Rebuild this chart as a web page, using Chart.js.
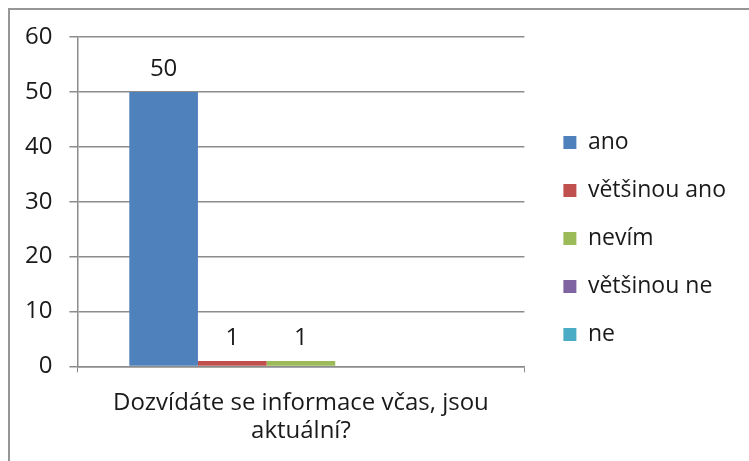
<!DOCTYPE html>
<html>
<head>
<meta charset="utf-8">
<script src="https://cdn.jsdelivr.net/npm/chart.js@4/dist/chart.umd.min.js"></script>
<style>
  body { margin: 0; background: #fff; overflow: hidden; }
  #frame { position: absolute; left: 8px; top: 8px; width: 800px; height: 520px; border: 2px solid #969696; }
  #chart { position: absolute; left: 0; top: 0; }
</style>
</head>
<body>
<div id="frame"></div>
<canvas id="chart" width="749" height="461"></canvas>
<script>
//Data
const categories = [["Dozvídáte se informace včas, jsou", "aktuální?"]];
const seriesNames = ["ano", "většinou ano", "nevím", "většinou ne", "ne"];
const seriesValues = [50, 1, 1, 0, 0];
const seriesColors = ["#4F81BD", "#C0504D", "#9BBB59", "#8064A2", "#4BACC6"];
const yTicks = [0, 10, 20, 30, 40, 50, 60];

const fontFamily = "'Open Sans', sans-serif";
const textColor = "#1a1a1a";
const lineColor = "#8c8c8c";

//Small plugin drawing the value above each non-zero bar
const valueLabels = {
  id: "valueLabels",
  afterDatasetsDraw(chart) {
    const ctx = chart.ctx;
    ctx.save();
    ctx.font = "24px " + fontFamily;
    ctx.fillStyle = textColor;
    ctx.textAlign = "center";
    ctx.textBaseline = "middle";
    chart.data.datasets.forEach((ds, i) => {
      chart.getDatasetMeta(i).data.forEach((bar, j) => {
        const v = ds.data[j];
        if (v > 0) ctx.fillText(String(v), bar.x, bar.y - 23);
      });
    });
    ctx.restore();
  },
};

const datasets = seriesNames.map((name, i) => ({
  label: name,
  data: [seriesValues[i]],
  backgroundColor: seriesColors[i],
  borderWidth: 0,
  categoryPercentage: 0.768,
  barPercentage: 1,
}));

new Chart("chart", {
  type: "bar",
  data: { labels: categories, datasets: datasets },
  plugins: [valueLabels],
  options: {
    responsive: false,
    animation: false,
    layout: { padding: { left: 8, right: 13, top: 37, bottom: -1 } },
    plugins: {
      tooltip: { enabled: false },
      legend: {
        position: "right",
        align: "center",
        maxWidth: 300,
        labels: {
          font: { family: fontFamily, size: 23, lineHeight: "45px" },
          color: textColor,
          boxWidth: 13,
          boxHeight: 13,
          padding: 25,
          //last item as a one-line array: it gets a taller slot, which lifts the centred list a bit
          generateLabels: (chart) => {
            const items = Chart.defaults.plugins.legend.labels.generateLabels(chart);
            items.forEach((it) => { it.lineWidth = 0; });
            const last = items[items.length - 1];
            last.text = [last.text];
            return items;
          },
        },
      },
    },
    scales: {
      x: {
        grid: { drawOnChartArea: false, drawTicks: true, tickLength: 6, color: lineColor, offset: true },
        border: { color: lineColor, width: 1.5 },
        ticks: {
          font: { family: fontFamily, size: 24, lineHeight: 1.2 },
          color: textColor,
          padding: 16,
          maxRotation: 0,
        },
      },
      y: {
        min: 0,
        max: 60,
        afterBuildTicks: (s) => { s.ticks = yTicks.map((v) => ({ value: v })); },
        grid: { color: lineColor, lineWidth: 1.5, tickLength: 8 },
        border: { color: lineColor, width: 1.5 },
        ticks: {
          font: { family: fontFamily, size: 24 },
          color: textColor,
          padding: 17,
        },
      },
      //empty right-hand axis used only as a gap between plot and legend
      gap: {
        position: "right",
        display: true,
        grid: { display: false },
        border: { display: false },
        ticks: { display: false },
        afterFit: (s) => { s.width = 14; },
      },
    },
  },
});
</script>
</body>
</html>
